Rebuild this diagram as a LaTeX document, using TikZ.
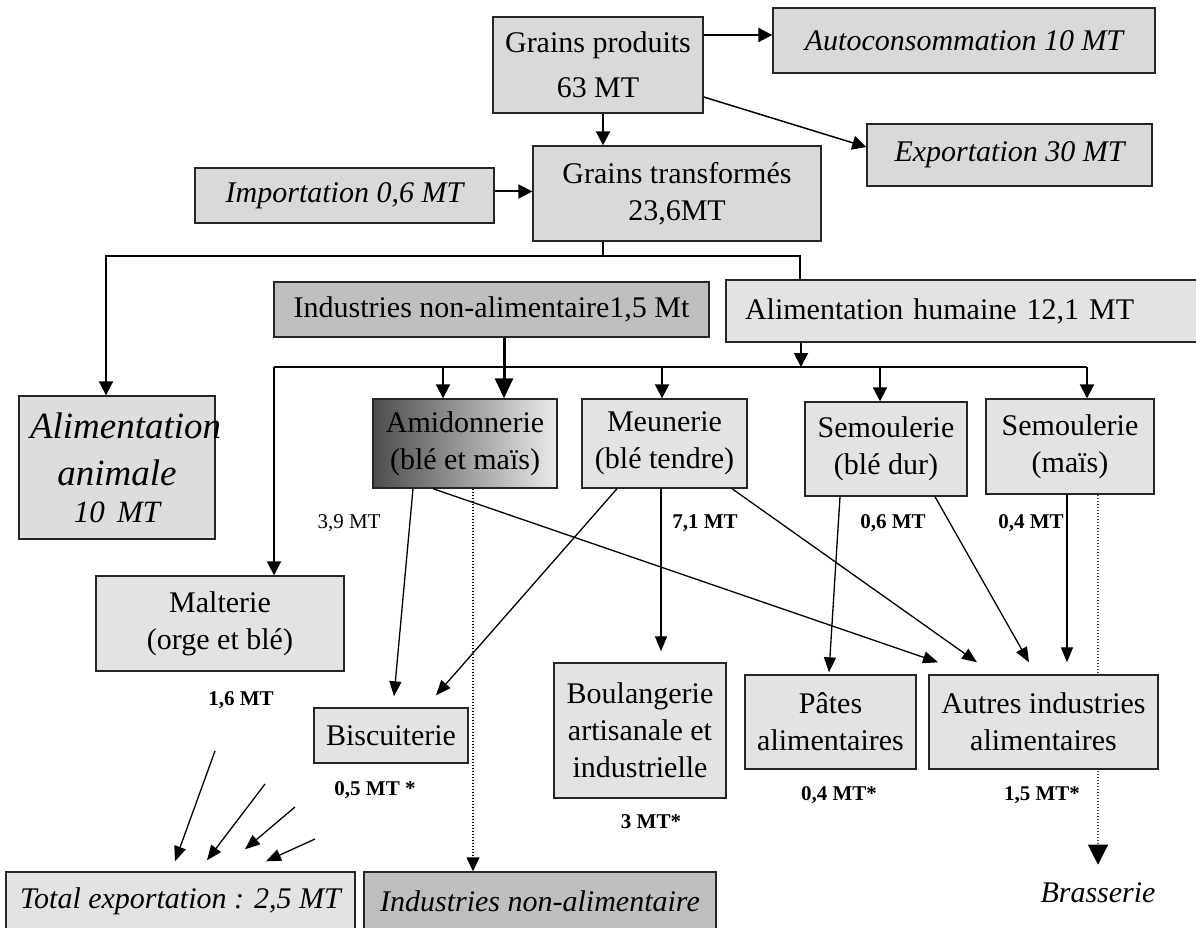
\documentclass[tikz,border=0pt]{standalone}
\usepackage{fontspec}
\setmainfont{Liberation Serif}
\usetikzlibrary{arrows.meta}

\begin{document}
\begin{tikzpicture} [
  x=1pt, y=-1pt,
  box/.style={draw=black!85, line width=1.4pt, fill=gray!30, align=center,
    inner sep=0pt, font=\fontsize{30}{37}\selectfont},
  pale/.style={box, fill=gray!22},
  dark/.style={box, fill=gray!50},
  ital/.style={font=\fontsize{30}{37}\selectfont\itshape},
  qty/.style={font=\fontsize{21}{24}\selectfont\bfseries, inner sep=0pt},
  bus/.style={line width=2pt},
  arr/.style={line width=2pt, -{Triangle[length=14pt,width=14pt]}},
  flow/.style={line width=1.3pt, -{Triangle[length=15pt,width=12pt]}},
  dotline/.style={line width=1.4pt, dash pattern=on 1.5pt off 1.5pt,
    -{Triangle[length=14pt,width=13pt]}}]
\useasboundingbox (0,0) rectangle (1196,928);

% top of the chain
\node[box, minimum width=210pt, minimum height=96pt] (prod) at (598,65) {Grains produits\\[8pt]63 MT};
\node[box, ital, minimum width=382pt, minimum height=65pt] (autoc) at (964,40.5) {Autoconsommation 10 MT};
\node[box, ital, minimum width=285pt, minimum height=62pt] (expo) at (1009.5,155) {Exportation 30 MT};
\node[box, ital, minimum width=299pt, minimum height=55pt] (impo) at (344.5,195.5) {Importation 0,6 MT};
\node[box, minimum width=288pt, minimum height=95pt] (transf) at (677,193.5) {Grains transformés\\23,6MT};

% uses
\node[box, fill=gray!27, minimum width=196pt, minimum height=143pt, text width=174pt,
  inner xsep=11pt, font=\fontsize{37}{47}\selectfont\itshape] (anim) at (117,467.5)
  {Alimentation\\animale\\[-10pt]{\fontsize{31}{37}\selectfont 10 MT}};
\node[dark, minimum width=435pt, minimum height=55pt] (indna) at (491.5,309.5) {Industries non-alimentaire1,5 Mt};
\node[pale, minimum width=474pt, minimum height=62pt, text width=436pt, inner xsep=19pt,
  align=left] (humaine) at (963,311) {Alimentation humaine 12,1 MT};

% first transformation
\node[box, left color=black!70, right color=black!8, minimum width=184pt, minimum height=89pt] (amid) at (465,443.5) {Amidonnerie\\(blé et maïs)};
\node[pale, minimum width=165pt, minimum height=89pt] (meun) at (664.5,443.5) {Meunerie\\(blé tendre)};
\node[pale, minimum width=162pt, minimum height=94pt] (semdur) at (886,449) {Semoulerie\\(blé dur)};
\node[pale, minimum width=168pt, minimum height=95pt] (semmais) at (1070,446.5) {Semoulerie\\(maïs)};
\node[pale, minimum width=248pt, minimum height=95pt] (malt) at (220,623.5) {Malterie\\(orge et blé)};

\node[ital, inner sep=0pt] (brass) at (1098,893) {Brasserie};
\draw[dotline, line width=1.1pt, draw=black!70, -{Triangle[length=20pt,width=20pt,color=black]}]
  (semmais.south -| brass) -- ([yshift=18pt]brass.north);

% second transformation
\node[pale, minimum width=154pt, minimum height=55pt] (bisc) at (391,735.5) {Biscuiterie};
\node[pale, minimum width=172pt, minimum height=135pt] (boul) at (640,730.5) {Boulangerie\\artisanale et\\industrielle};
\node[pale, minimum width=171pt, minimum height=94pt] (pates) at (830.5,722) {Pâtes\\alimentaires};
\node[pale, minimum width=229pt, minimum height=94pt] (autres) at (1043.5,722) {Autres industries\\alimentaires};
\node[pale, ital, minimum width=349pt, minimum height=58pt] (totexp) at (180.5,901) {Total exportation : 2,5 MT};
\node[dark, ital, minimum width=352pt, minimum height=58pt] (indna2) at (540,901) {Industries non-alimentaire};

% quantities
\node[qty, font=\fontsize{21}{24}\selectfont] (q39) at (349,523) {3,9 MT};
\node[qty] (q71) at (705,523) {7,1 MT};
\node[qty] (q06) at (893,523) {0,6 MT};
\node[qty] (q04) at (1031,523) {0,4 MT};
\node[qty] (q16) at (241,700) {1,6 MT};
\node[qty] (q05) at (375,790) {0,5 MT *};
\node[qty] (q3) at (651,822) {3 MT*};
\node[qty] (q04b) at (839,795) {0,4 MT*};
\node[qty] (q15) at (1042,795) {1,5 MT*};

% connectors
\coordinate (t1) at (603,256);
\coordinate (t2) at (801,367);
\coordinate (b2l) at (274,367);
\draw[arr] ([xshift=5pt]prod.south) -- ([xshift=5pt]prod.south |- transf.north);
\draw[arr] ([yshift=30pt]prod.east) -- ([yshift=30pt]prod.east -| autoc.west);
\draw[arr, line width=1.5pt] ([yshift=-32pt]prod.east) -- ([yshift=8pt]expo.west);
\draw[arr] ([yshift=4pt]impo.east) -- ([yshift=4pt]impo.east -| transf.west);
\draw[bus] (transf.south -| t1) -- (t1);
\draw[arr] (t1) -| ([xshift=-11pt]anim.north);
\draw[bus] (t1) -| ([xshift=-163pt]humaine.north);
\draw[arr] (humaine.south -| t2) -- (t2);
\draw[bus] (b2l) -- ([xshift=17pt]semmais.north |- t2);
\draw[arr] (b2l) -- (b2l |- malt.north);
\draw[arr] ([xshift=-22pt]amid.north |- t2) -- ([xshift=-22pt]amid.north);
\draw[arr] ([xshift=-2.5pt]meun.north |- t2) -- ([xshift=-2.5pt]meun.north);
\draw[arr] ([xshift=-6pt]semdur.north |- t2) -- ([xshift=-6pt]semdur.north);
\draw[arr] ([xshift=17pt]semmais.north |- t2) -- ([xshift=17pt]semmais.north);
\draw[line width=3pt, -{Triangle[length=20pt,width=18pt]}]
  ([xshift=12.5pt]indna.south) -- ([xshift=12.5pt]indna.south |- amid.north);

\draw[flow] ([xshift=-52pt]amid.south) -- ([xshift=3pt,yshift=11pt]bisc.north);
\draw[flow] ([xshift=-47.5pt]meun.south) -- ([xshift=45pt,yshift=12pt]bisc.north);
\draw[flow] ([xshift=-32pt]amid.south) -- ([xshift=-105.5pt,yshift=12pt]autres.north);
\draw[flow] ([xshift=67.5pt]meun.south) -- ([xshift=-66.5pt,yshift=12pt]autres.north);
\draw[flow] ([xshift=-3.5pt]meun.south) -- ([xshift=21pt,yshift=11pt]boul.north);
\draw[flow] ([xshift=-46pt]semdur.south) -- ([xshift=-1.5pt,yshift=2pt]pates.north);
\draw[flow] ([xshift=49pt]semdur.south) -- ([xshift=-14.5pt,yshift=12pt]autres.north);
\draw[flow] ([xshift=-3pt]semmais.south) -- ([xshift=23.5pt,yshift=12pt]autres.north);
\draw[dotline] ([xshift=8pt]amid.south) -- ([xshift=8pt]amid.south |- indna2.north);

% towards export
\coordinate (e1) at (215,751);
\coordinate (e2) at (265,784);
\coordinate (e3) at (295,807);
\coordinate (e4) at (315,839);
\draw[flow] (e1) -- ([xshift=-5.5pt,yshift=10pt]totexp.north);
\draw[flow] (e2) -- ([xshift=26.5pt,yshift=11pt]totexp.north);
\draw[flow] (e3) -- ([xshift=64.5pt,yshift=22pt]totexp.north);
\draw[flow] (e4) -- ([xshift=85.5pt,yshift=10pt]totexp.north);
\end{tikzpicture}
\end{document}
